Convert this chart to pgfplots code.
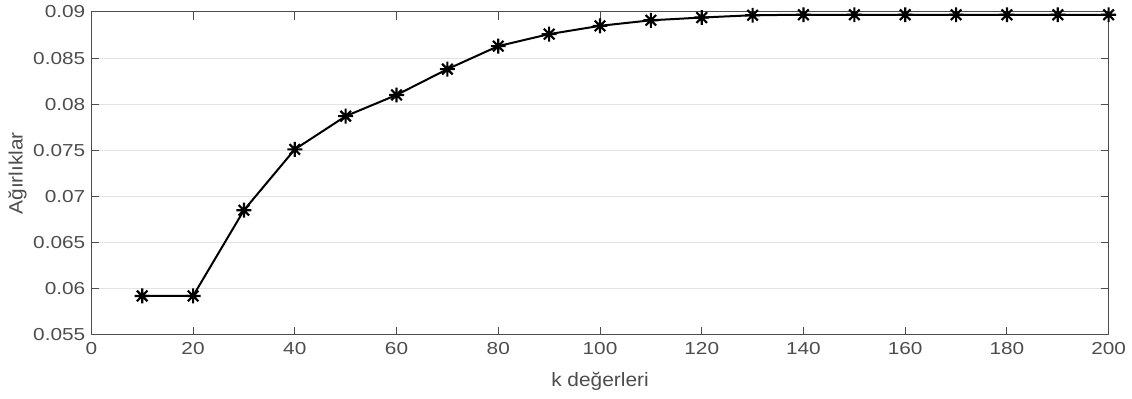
\documentclass[border=0pt]{standalone}
\usepackage{fontspec}
\setmainfont{Liberation Sans}
\newfontfamily\tickfont[FakeStretch=1.2]{Liberation Sans}
\newfontfamily\labfont[FakeStretch=1.08]{Liberation Sans}
\usepackage{pgfplots}
\pgfplotsset{compat=1.18}
\definecolor{tickgray}{HTML}{4D4D4D}
\definecolor{gridgray}{HTML}{E3E3E3}
\pgfdeclareplotmark{mstar}{%
  \pgfpathmoveto{\pgfqpoint{-\pgfplotmarksize}{0pt}}\pgfpathlineto{\pgfqpoint{\pgfplotmarksize}{0pt}}%
  \pgfpathmoveto{\pgfqpoint{0pt}{-\pgfplotmarksize}}\pgfpathlineto{\pgfqpoint{0pt}{\pgfplotmarksize}}%
  \pgfpathmoveto{\pgfqpoint{-0.707\pgfplotmarksize}{-0.707\pgfplotmarksize}}\pgfpathlineto{\pgfqpoint{0.707\pgfplotmarksize}{0.707\pgfplotmarksize}}%
  \pgfpathmoveto{\pgfqpoint{-0.707\pgfplotmarksize}{0.707\pgfplotmarksize}}\pgfpathlineto{\pgfqpoint{0.707\pgfplotmarksize}{-0.707\pgfplotmarksize}}%
  \pgfusepathqstroke}
\begin{document}
\begin{tikzpicture}[x=1pt,y=1pt]
\path[use as bounding box] (0,0) rectangle (849,299.25);
\begin{axis}[
  at={(68.5pt,48.25pt)}, anchor=south west,
  width=763pt, height=242pt, scale only axis,
  xmin=0, xmax=200, ymin=0.055, ymax=0.09,
  xtick={0,20,...,200},
  ytick={0.055,0.06,0.065,0.07,0.075,0.08,0.085,0.09},
  /pgf/number format/assume math mode=true,
  scaled y ticks=false,
  tick align=inside,
  major tick length=6pt,
  ymajorgrids, grid style={gridgray, line width=0.75pt},
  axis line style={tickgray, line width=0.75pt},
  tick style={tickgray, line width=0.75pt},
  ticklabel style={font=\tickfont\fontsize{13pt}{15pt}\selectfont, text=tickgray},
  xticklabel style={yshift=-2pt},
  yticklabel style={xshift=-1pt, /pgf/number format/.cd, fixed, precision=3},
  xlabel={k değerleri}, ylabel={Ağırlıklar},
  label style={font=\labfont\fontsize{14.5pt}{16pt}\selectfont, text=tickgray},
  xlabel style={at={(axis description cs:0.5,-0.145)}, anchor=center},
  ylabel style={at={(axis description cs:-0.0727,0.5)}, anchor=center},
  clip=false,
]
\addplot[black, line width=1.5pt, mark=mstar, mark size=5.6pt, mark options={line width=1.6pt}]
coordinates {
(10,0.0592) (20,0.0592) (30,0.0685) (40,0.0751) (50,0.0787) (60,0.0810)
(70,0.0838) (80,0.0863) (90,0.0876) (100,0.0885) (110,0.0891) (120,0.0894)
(130,0.08965) (140,0.0897) (150,0.0897) (160,0.0897) (170,0.0897) (180,0.0897)
(190,0.0897) (200,0.0897)
};
\end{axis}
\end{tikzpicture}
\end{document}
